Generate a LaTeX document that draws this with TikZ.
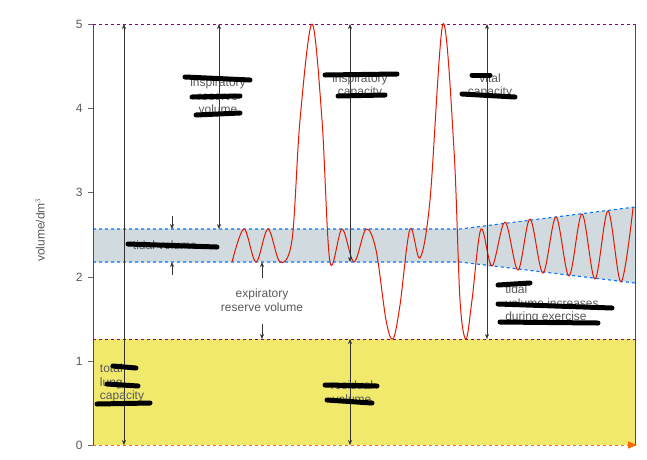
\documentclass[tikz,border=0pt]{standalone}
\usepackage{fontspec}
\setmainfont{Liberation Sans}
\usetikzlibrary{arrows.meta}
\begin{document}
\begin{tikzpicture}[x=1pt,y=-1pt,
  lbl/.style={font=\fontsize{12}{13.5}\selectfont,text=black!65,align=center},
  meas/.style={black!80,line width=0.6pt,{Stealth[length=5pt,width=4pt]}-{Stealth[length=5pt,width=4pt]}},
  half/.style={black!80,line width=0.6pt,-{Stealth[length=5pt,width=4pt]}},
  scrib/.style={black,line width=5pt,line cap=round},
  pdash/.style={violet!70!magenta!80!black,dashed,line width=1pt},
  bdash/.style={blue!55!cyan,dashed,line width=1.1pt}]
\useasboundingbox (0,0) rectangle (647,459);
\fill[yellow!75!olive!55] (93,339) rectangle (635,445);
\fill[cyan!20!gray!35] (93,229) -- (460,229) -- (635,207) -- (635,283) -- (460,262) -- (93,262) -- cycle;
\draw[bdash] (93,229) -- (460,229) -- (635,207);
\draw[bdash] (93,262) -- (460,262) -- (635,283);
\draw[black!70,line width=0.6pt] (93,24) -- (93,445);
\draw[black!70,line width=0.6pt] (635,24) -- (635,445);
\draw[pdash] (93,24) -- (635,24);
\draw[pdash] (93,339) -- (635,339);
\draw[orange!80!red,dashed,line width=1pt,-{Triangle[length=9pt,width=7pt]}] (93,445) -- (637,445);
\foreach \v/\y in {0/445,1/361,2/277,3/192,4/108,5/24}{
  \draw[black!60] (88,\y) -- (93,\y);
  \node[lbl,anchor=east] (t\v) at (86,\y) {\v};}
\node[lbl,rotate=90] (ylab) at (40,230) {volume/dm$^3$};
\draw[red!80!orange!90!black,line width=1pt] plot[smooth,tension=0.55] coordinates {
 (232,262)(244,229)(256,262)(268,229)(280,262)(292,240)(300,120)(312,24)(322,120)(330,262)
 (342,229)(354,262)(366,229)(376,250)(386,320)(393,339)(400,305)(410,229)(420,258)
 (430,200)(443,24)(454,150)(460,300)(466,339)(472,300)(481,229)(492,266)(505,222)(518,270)(530,219)
 (543,273)(556,217)(569,276)(582,214)(595,279)(608,211)(621,282)(633,208)};
\coordinate (top1) at (124,24); \coordinate (bot1) at (124,445);
\draw[meas] (top1) -- (bot1);
\coordinate (top2) at (219,24); \coordinate (bot2) at (219,229);
\draw[meas] (top2) -- (bot2);
\coordinate (top3) at (350,24); \coordinate (bot3) at (350,262);
\draw[meas] (top3) -- (bot3);
\coordinate (top4) at (487,24); \coordinate (bot4) at (487,339);
\draw[meas] (top4) -- (bot4);
\coordinate (top5) at (350,339); \coordinate (bot5) at (350,445);
\draw[meas] (top5) -- (bot5);
\coordinate (a1) at (172,216); \coordinate (b1) at (172,229);
\draw[half] (a1) -- (b1);
\coordinate (a2) at (172,275); \coordinate (b2) at (172,262);
\draw[half] (a2) -- (b2);
\coordinate (a3) at (262,278); \coordinate (b3) at (262,262);
\draw[half] (a3) -- (b3);
\coordinate (a4) at (262,324); \coordinate (b4) at (262,339);
\draw[half] (a4) -- (b4);
\node[lbl] (erv) at (262,300) {expiratory\\reserve volume};
\node[lbl] (irv) at (218,96) {inspiratory\\reserve\\volume};
\node[lbl] (ic) at (360,86) {inspiratory\\capacity};
\node[lbl] (vc) at (490,86) {vital\\capacity};
\node[lbl] (tv) at (165,245) {tidal volume};
\node[lbl,align=left] (tve) at (552,304) {tidal\\volume increases\\during exercise};
\node[lbl,align=left] (tlc) at (122,383) {total\\lung\\capacity};
\node[lbl] (rv) at (352,392) {residual\\volume};
\draw[scrib] (185,77) -- (250,80);
\draw[scrib] (192,97) -- (240,96);
\draw[scrib] (196,115) -- (240,113);
\draw[scrib] (325,75) -- (397,74);
\draw[scrib] (338,96) -- (385,95);
\draw[scrib] (472,75) -- (490,75);
\draw[scrib] (462,94) -- (515,97);
\draw[scrib] (128,244) -- (217,247);
\draw[scrib] (498,285) -- (530,283);
\draw[scrib] (498,304) -- (612,308);
\draw[scrib] (500,322) -- (598,323);
\draw[scrib] (113,366) -- (136,368);
\draw[scrib] (107,384) -- (138,386);
\draw[scrib] (97,404) -- (150,403);
\draw[scrib] (325,385) -- (377,386);
\draw[scrib] (327,400) -- (372,403);
\end{tikzpicture}
\end{document}
